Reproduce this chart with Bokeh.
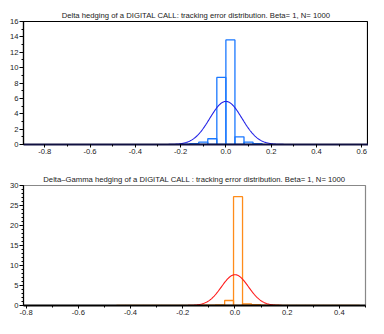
import numpy as np
from bokeh.plotting import figure
from bokeh.layouts import column
from bokeh.models import Range1d, FixedTicker, NumeralTickFormatter
from bokeh.embed import file_html
from bokeh.resources import INLINE

# ---- data ----
top_title = "Delta hedging of a DIGITAL CALL: tracking error distribution. Beta= 1, N= 1000"
top_edges = [-0.20, -0.16, -0.12, -0.08, -0.04, 0.00, 0.04, 0.08, 0.12, 0.16]
top_heights = [0.05, 0.12, 0.30, 0.75, 8.73, 13.6, 1.00, 0.30, 0.12]
top_mu = 0.0
top_sigma = 0.0712

bot_title = "Delta\u2013Gamma hedging of a DIGITAL CALL : tracking error distribution. Beta= 1, N= 1000"
bot_edges = [-0.4535, -0.419, -0.3845, -0.35, -0.3155, -0.281, -0.2465, -0.212, -0.1775,
             -0.143, -0.1085, -0.074, -0.0395, -0.0055, 0.029, 0.0635, 0.098, 0.1325,
             0.167, 0.2015, 0.236, 0.2705, 0.305, 0.3395, 0.374, 0.4085, 0.443, 0.4775]
bot_heights = [0.03, 0.03, 0.03, 0.03, 0.03, 0.03, 0.03, 0.05, 0.05, 0.08, 0.10, 0.15, 1.25,
               27.2, 0.40, 0.20, 0.10, 0.08, 0.05, 0.05, 0.03, 0.03, 0.03, 0.03, 0.03, 0.03, 0.03]
bot_mu = 0.0
bot_sigma = 0.0518

top_xticks = [-0.8, -0.6, -0.4, -0.2, 0.0, 0.2, 0.4, 0.6]
top_yticks = [0, 2, 4, 6, 8, 10, 12, 14, 16]
bot_xticks = [-0.8, -0.6, -0.4, -0.2, 0.0, 0.2, 0.4]
bot_yticks = [0, 5, 10, 15, 20, 25, 30]

FONT = "Liberation Sans"
TFS = "7.7px"
LFS = "7.6px"


def make_fig(title, xr, yr, fw, fh, bl, br, bt, bb, xt, yt, xminor, yminor,
             outline, xaxis_col):
    p = figure(x_range=Range1d(*xr), y_range=Range1d(*yr),
               frame_width=fw, frame_height=fh,
               min_border_left=bl, min_border_right=br,
               min_border_top=bt, min_border_bottom=bb,
               output_backend="svg", toolbar_location=None, title=title)
    p.title.text_font = FONT
    p.title.text_font_size = TFS
    p.title.text_font_style = "normal"
    p.title.align = "center"
    p.title.text_color = "#222222"
    p.title.standoff = 4
    p.grid.visible = False
    p.background_fill_color = "white"
    p.border_fill_color = "white"
    p.outline_line_color = outline
    p.outline_line_width = 1.2
    for ax in (p.xaxis[0], p.yaxis[0]):
        ax.major_label_text_font = FONT
        ax.major_label_text_font_size = LFS
        ax.major_label_text_color = "#222222"
        ax.major_tick_in = 0
        ax.minor_tick_in = 0
        ax.major_tick_line_color = "black"
        ax.minor_tick_line_color = "black"
        ax.major_label_standoff = 1
    p.xaxis.ticker = FixedTicker(ticks=xt, minor_ticks=xminor)
    p.yaxis.ticker = FixedTicker(ticks=yt, minor_ticks=yminor)
    p.xaxis.formatter = NumeralTickFormatter(format="0.0")
    p.xaxis.major_tick_out = 3
    p.xaxis.minor_tick_out = 2
    p.yaxis.major_tick_out = 4
    p.yaxis.minor_tick_out = 2
    p.xaxis.axis_line_color = xaxis_col
    p.xaxis.axis_line_width = 1.8
    p.yaxis.axis_line_color = "black"
    p.yaxis.axis_line_width = 1.2
    return p


# ---- top panel ----
p1 = make_fig(top_title, (-0.894, 0.63), (0, 16), 345, 123, 22, 1, 21, 15,
              top_xticks, top_yticks,
              [round(-0.8 + 0.1 * i, 2) for i in range(15)], list(range(0, 17)),
              "black", "#101040")
p1.quad(left=top_edges[:-1], right=top_edges[1:], bottom=0, top=top_heights,
        fill_color=None, line_color="#1a78ff", line_width=1.3)
x1 = np.linspace(-0.894, 0.63, 600)
y1 = np.exp(-0.5 * ((x1 - top_mu) / top_sigma) ** 2) / (top_sigma * np.sqrt(2 * np.pi))
p1.line(x1, y1, line_color="#2222e6", line_width=1.1)

# ---- bottom panel ----
p2 = make_fig(bot_title, (-0.81, 0.5), (0, 30), 342, 120, 23, 3, 26, 13,
              bot_xticks, bot_yticks,
              [round(-0.8 + 0.1 * i, 2) for i in range(14)], list(range(0, 31)),
              "#888888", "black")
p2.quad(left=bot_edges[:-1], right=bot_edges[1:], bottom=0, top=bot_heights,
        fill_color=None, line_color="#ff8c1a", line_width=1.3)
x2 = np.linspace(-0.81, 0.5, 600)
y2 = np.exp(-0.5 * ((x2 - bot_mu) / bot_sigma) ** 2) / (bot_sigma * np.sqrt(2 * np.pi))
p2.line(x2, y2, line_color="#ff1a1a", line_width=1.1)

layout = column(p1, p2, spacing=0)
open("out.html", "w").write(file_html(layout, INLINE))
